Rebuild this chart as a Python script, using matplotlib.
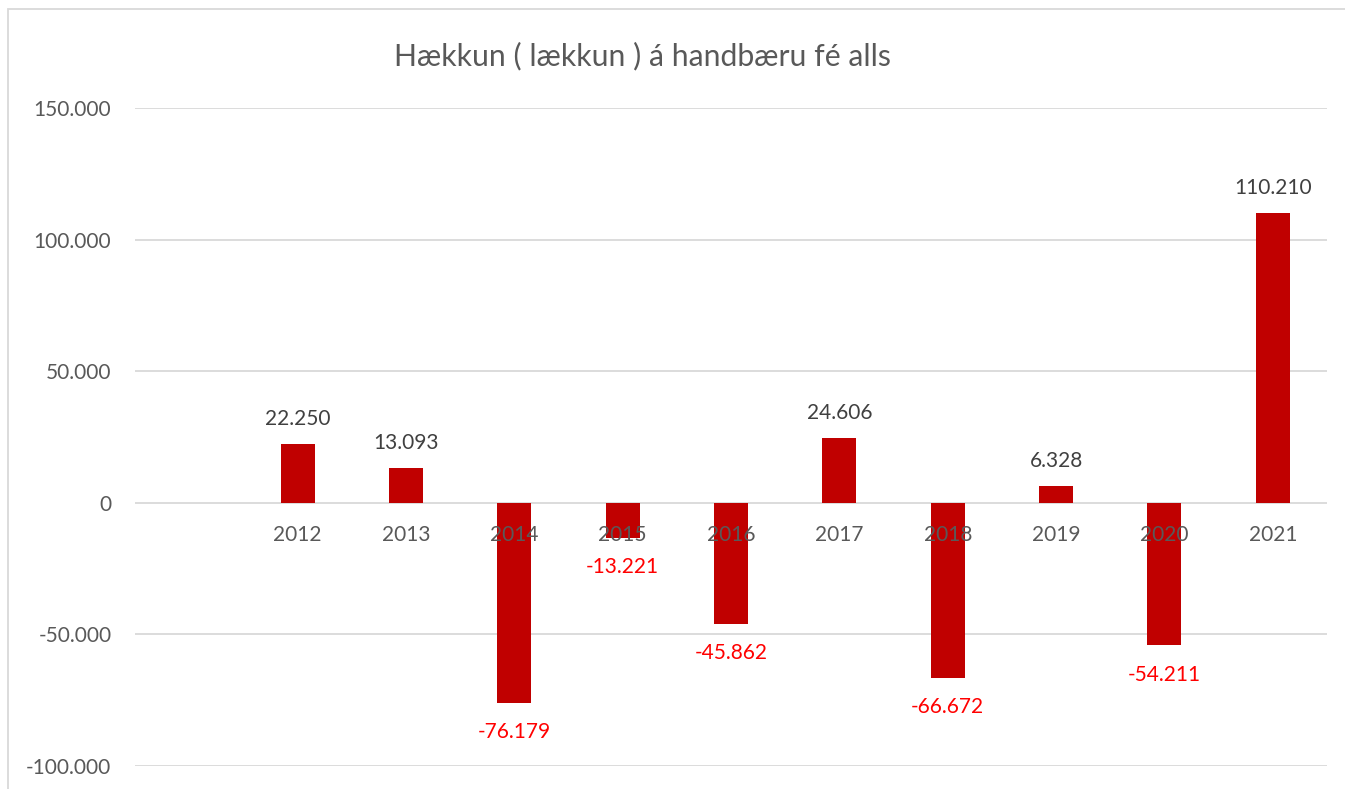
import numpy as np
import matplotlib
matplotlib.use("Agg")
import matplotlib.pyplot as plt
from matplotlib.patches import Rectangle

categories = ["", "2012", "2013", "2014", "2015", "2016", "2017", "2018", "2019", "2020", "2021"]
values = [np.nan, 22250, 13093, -76179, -13221, -45862, 24606, -66672, 6328, -54211, 110210]
yticks = [-100000, -50000, 0, 50000, 100000, 150000]
title = "Hækkun ( lækkun ) á handbæru fé alls"

plt.rcParams['font.family'] = ['Lato', 'DejaVu Sans']

W, H = 1345, 789
fig = plt.figure(figsize=(W / 100, H / 100), dpi=100)
ax = fig.add_axes([135 / W, (H - 766) / H, (1327 - 135) / W, (766 - 108) / H])

x = np.arange(len(categories))
ax.bar(x, values, width=0.314, color="#c00000", zorder=2)
ax.set_xlim(-0.5, len(categories) - 0.5)
ax.set_ylim(-100000, 150000)

ax.set_yticks(yticks)
ax.set_yticklabels([f"{v:,}".replace(",", ".") for v in yticks])
ax.tick_params(axis="y", length=0, pad=17, labelsize=15, labelcolor="#595959")
ax.set_xticks([])
ax.grid(axis="y", color="#d9d9d9", linewidth=1.3, zorder=0)
ax.set_axisbelow(True)
for s in ax.spines.values():
    s.set_visible(False)

def fmt(v):
    s = f"{abs(int(v)):,}".replace(",", ".")
    return ("-" if v < 0 else "") + s

for xi, cat in zip(x, categories):
    if cat:
        ax.annotate(cat, (xi, 0), xytext=(0, -23), textcoords="offset points",
                    ha="center", va="center", fontsize=15, color="#595959", zorder=5)

for xi, v in zip(x, values):
    if np.isnan(v):
        continue
    if v >= 0:
        ax.annotate(fmt(v), (xi, v), xytext=(0, 18), textcoords="offset points",
                    ha="center", va="center", fontsize=15, color="#404040", zorder=5)
    else:
        ax.annotate(fmt(v), (xi, v), xytext=(0, -21), textcoords="offset points",
                    ha="center", va="center", fontsize=15, color="#ff0000", zorder=5)

fig.text(642.5 / W, (H - 65) / H, title, ha="center", va="baseline",
         fontsize=21.7, color="#595959")

fig.patches.append(Rectangle((8 / W, -0.1), 1.5, (H - 9) / H + 0.1,
                             transform=fig.transFigure, fill=False,
                             edgecolor="#d9d9d9", linewidth=1.3))

fig.savefig("out.png", dpi=100)
